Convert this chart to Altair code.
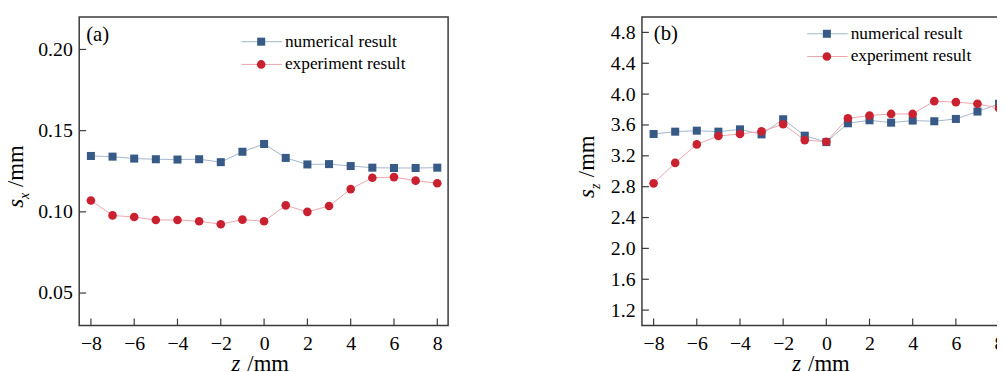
import altair as alt
import pandas as pd

# ---------------- data ----------------
z = list(range(-8, 9))
sx_numerical = [0.1344, 0.1340, 0.1328, 0.1324, 0.1322, 0.1324, 0.1306, 0.1370, 0.1418,
                0.1332, 0.1292, 0.1294, 0.1282, 0.1272, 0.1270, 0.1270, 0.1272]
sx_experiment = [0.1070, 0.0978, 0.0968, 0.0950, 0.0950, 0.0942, 0.0924, 0.0952, 0.0942,
                 0.1040, 0.1000, 0.1036, 0.1140, 0.1210, 0.1214, 0.1192, 0.1176]
sz_numerical = [3.483, 3.513, 3.526, 3.513, 3.543, 3.478, 3.674, 3.461, 3.378,
                3.622, 3.661, 3.630, 3.657, 3.648, 3.678, 3.774, 3.874]
sz_experiment = [2.843, 3.109, 3.348, 3.457, 3.483, 3.517, 3.609, 3.404, 3.383,
                 3.687, 3.722, 3.743, 3.743, 3.909, 3.896, 3.874, 3.817]
x_ticks = [-8, -6, -4, -2, 0, 2, 4, 6, 8]
sx_ticks = [0.05, 0.10, 0.15, 0.20]
sz_ticks = [1.2, 1.6, 2.0, 2.4, 2.8, 3.2, 3.6, 4.0, 4.4, 4.8]
legend_labels = ["numerical result", "experiment result"]
panel_labels = ["(a)", "(b)"]

FONT = "Liberation Serif"
BLUE, BLUE_LINE = "#375a86", "#a3b5cc"
RED, RED_LINE = "#c9212f", "#eca5aa"
FRAME = "#3a3a3a"
H = 312


def panel(W, yvals_num, yvals_exp, ydom, yticks, yfmt, letter, letter_xy,
          leg_x, leg_y, sub, ytitle_xy, xtitle_x):
    xs = alt.Scale(domain=[-8.54, 8.5], nice=False, zero=False)
    ys = alt.Scale(domain=ydom, nice=False, zero=False)
    xax = alt.Axis(values=x_ticks, ticks=False, domain=False, grid=False, title=None,
                   labelFont=FONT, labelFontSize=20, labelColor="black",
                   labelPadding=8, labelFlush=False, labelOverlap=False, labelBound=False)
    yax = alt.Axis(values=yticks, format=yfmt, ticks=False, domain=False, grid=False,
                   title=None, labelFont=FONT, labelFontSize=20, labelColor="black",
                   labelPadding=7, labelFlush=False, labelOverlap=False, labelBound=False)
    df = pd.DataFrame({"z": z, "num": yvals_num, "exp": yvals_exp})
    base = alt.Chart(df)
    X = alt.X("z:Q", scale=xs, axis=xax)
    layers = [
        base.mark_line(color=BLUE_LINE, strokeWidth=1).encode(
            x=X, y=alt.Y("num:Q", scale=ys, axis=yax)),
        base.mark_line(color=RED_LINE, strokeWidth=1).encode(
            x=X, y=alt.Y("exp:Q", scale=ys, axis=yax)),
        base.mark_point(shape="square", filled=True, color=BLUE, size=66, opacity=1).encode(
            x=X, y=alt.Y("num:Q", scale=ys, axis=yax)),
        base.mark_point(shape="circle", filled=True, color=RED, size=76, opacity=1).encode(
            x=X, y=alt.Y("exp:Q", scale=ys, axis=yax)),
        alt.Chart(pd.DataFrame({"t": x_ticks})).mark_rule(color=FRAME, strokeWidth=1.2).encode(
            x=alt.X("t:Q", scale=xs, axis=xax), y=alt.value(H), y2=alt.value(H - 7)),
        alt.Chart(pd.DataFrame({"t": yticks})).mark_rule(color=FRAME, strokeWidth=1.2).encode(
            y=alt.Y("t:Q", scale=ys, axis=yax), x=alt.value(0), x2=alt.value(7)),
    ]
    # legend
    styles = [(BLUE, BLUE_LINE, "square", 66), (RED, RED_LINE, "circle", 76)]
    for i, lab in enumerate(legend_labels):
        c, cl, shp, sz = styles[i]
        ly = leg_y + i * 23
        ldf = pd.DataFrame({"label": [lab]})
        layers += [
            alt.Chart(ldf).mark_rule(color=cl, strokeWidth=1).encode(
                x=alt.value(leg_x), x2=alt.value(leg_x + 41), y=alt.value(ly)),
            alt.Chart(ldf).mark_point(shape=shp, filled=True, color=c, size=sz, opacity=1).encode(
                x=alt.value(leg_x + 20), y=alt.value(ly)),
            alt.Chart(ldf).mark_text(font=FONT, fontSize=17.5, align="left", baseline="middle",
                                     color="black").encode(
                x=alt.value(leg_x + 44), y=alt.value(ly), text="label:N"),
        ]
    # panel letter
    layers.append(alt.Chart(pd.DataFrame({"t": [letter]})).mark_text(
        font=FONT, fontSize=21, align="left", baseline="middle", color="black").encode(
        x=alt.value(letter_xy[0]), y=alt.value(letter_xy[1]), text="t:N"))
    # y title: s_sub /mm (rotated)
    tx, ty = ytitle_xy
    ydf = pd.DataFrame({"s": ["s"], "sub": [sub], "u": ["/mm"], "zz": ["z"]})
    layers += [
        alt.Chart(ydf).mark_text(font=FONT, fontSize=23, fontStyle="italic", angle=270,
                                 align="left", baseline="alphabetic", color="black").encode(
            x=alt.value(tx), y=alt.value(ty), text="s:N"),
        alt.Chart(ydf).mark_text(font=FONT, fontSize=14, fontStyle="italic", angle=270,
                                 align="left", baseline="alphabetic", color="black").encode(
            x=alt.value(tx + 6), y=alt.value(ty - 9), text="sub:N"),
        alt.Chart(ydf).mark_text(font=FONT, fontSize=23, angle=270,
                                 align="left", baseline="alphabetic", color="black").encode(
            x=alt.value(tx), y=alt.value(ty - 21), text="u:N"),
        # x title: z /mm
        alt.Chart(ydf).mark_text(font=FONT, fontSize=23, fontStyle="italic",
                                 align="left", baseline="alphabetic", color="black").encode(
            x=alt.value(xtitle_x), y=alt.value(H + 46), text="zz:N"),
        alt.Chart(ydf).mark_text(font=FONT, fontSize=23,
                                 align="left", baseline="alphabetic", color="black").encode(
            x=alt.value(xtitle_x + 16), y=alt.value(H + 46), text="u:N"),
    ]
    return alt.layer(*layers).properties(width=W, height=H)


left = panel(373, sx_numerical, sx_experiment, [0.03, 0.22], sx_ticks, ".2f",
             panel_labels[0], (7, 18), 164, 25, "x", (-57, 193), 154)
right = panel(372, sz_numerical, sz_experiment, [1.0, 5.0], sz_ticks, ".1f",
              panel_labels[1], (12, 17), 167, 17, "z", (-48, 183), 152)

chart = alt.hconcat(left, right, spacing=128).configure_view(
    stroke=FRAME, strokeWidth=1.5
).configure_axis(
    labelOverlap=False, labelFlush=False, labelFont=FONT
).properties(padding={"left": -4, "top": 6, "right": -14, "bottom": 0})

chart.save("out.html", embed_options={"renderer": "svg", "actions": False})
